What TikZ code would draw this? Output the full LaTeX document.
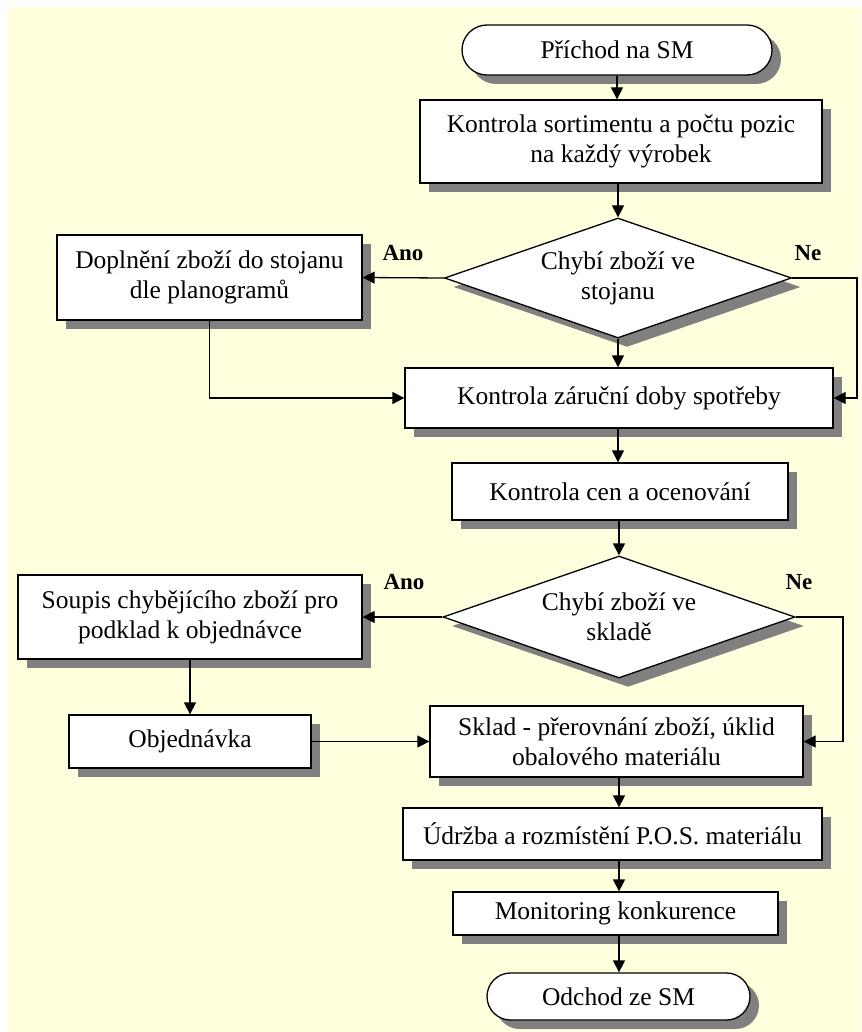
\documentclass[tikz,border=0pt]{standalone}
\usepackage{fontspec}
\setmainfont{Liberation Serif}
\usetikzlibrary{shapes.geometric,shapes.misc,shadows,arrows.meta}
\definecolor{cream}{RGB}{255,255,222}
\definecolor{shadowgray}{RGB}{128,128,128}
\newcommand{\fsx}{\fontsize{25.5}{30}\selectfont}
\newcommand{\fsb}{\fontsize{23}{28}\selectfont\bfseries}
\tikzset{
  base/.style={draw=black, line width=1.3pt, fill=white, font=\fsx, align=center, inner sep=0pt,
    drop shadow={shadow xshift=9pt, shadow yshift=-9pt, fill=shadowgray, opacity=1}},
  procbox/.style={base, rectangle},
  term/.style={base, rounded rectangle},
  decision/.style={base, diamond, aspect=2.9},
  arr/.style={-{Triangle[length=12pt,width=12pt]}, line width=1.3pt},
  lbl/.style={font=\fsb, inner sep=0pt}
}
\begin{document}
\begin{tikzpicture}[x=1pt,y=-1pt]
\useasboundingbox (0,0) rectangle (861,1032);
\fill[white] (0,0) rectangle (861,1032);
\fill[cream] (8,7) rectangle (861,1032);

\node[term, minimum width=310pt, minimum height=50pt] (start) at (617,50) {Příchod na SM};
\node[procbox, minimum width=402pt, minimum height=83pt] (b1) at (621,141.5) {Kontrola sortimentu a počtu pozic\\na každý výrobek};
\node[decision, minimum width=347pt, minimum height=120pt] (d1) at (618,278) {Chybí zboží ve\\stojanu};
\node[procbox, minimum width=305pt, minimum height=85pt] (b4) at (209.5,277.5) {Doplnění zboží do stojanu\\dle planogramů};
\node[procbox, minimum width=428pt, minimum height=60pt] (b5) at (619,398) {Kontrola záruční doby spotřeby};
\node[procbox, minimum width=336pt, minimum height=57pt] (b6) at (620,491.5) {Kontrola cen a ocenování};
\node[decision, minimum width=352pt, minimum height=122pt] (d2) at (619,617) {Chybí zboží ve\\skladě};
\node[procbox, minimum width=344pt, minimum height=84pt] (b8) at (190,617) {Soupis chybějícího zboží pro\\podklad k objednávce};
\node[procbox, minimum width=242pt, minimum height=53pt] (b9) at (190,741.5) {Objednávka};
\node[procbox, minimum width=373pt, minimum height=71pt] (b10) at (616.5,741.5) {Sklad - přerovnání zboží, úklid\\obalového materiálu};
\node[procbox, minimum width=419pt, minimum height=52pt] (b11) at (612.5,834) {Údržba a rozmístění P.O.S. materiálu};
\node[procbox, minimum width=325pt, minimum height=43pt] (b12) at (615.5,913.5) {Monitoring konkurence};
\node[term, minimum width=263pt, minimum height=47pt] (end) at (618.5,996.5) {Odchod ze SM};

\coordinate (r1) at (857,0);
\coordinate (r2) at (843,0);

\node[lbl] (ano1) at (403,253) {Ano};
\node[lbl] (ne1) at (808,253) {Ne};
\node[lbl] (ano2) at (404,582) {Ano};
\node[lbl] (ne2) at (799,582) {Ne};

\draw[arr] (start.south) -- (start.south |- b1.north);
\draw[arr] (b1.south -| d1.north) -- (d1.north);
\draw[arr] (d1.west) -- (b4.east);
\draw[arr] (b4.south) |- (b5.west);
\draw[arr] (d1.east) -- (d1.east -| r1) |- (b5.east);
\draw[arr] (d1.south) -- (d1.south |- b5.north);
\draw[arr] (b5.south -| d1.south) -- (d1.south |- b6.north);
\draw[arr] (b6.south -| d2.north) -- (d2.north);
\draw[arr] (d2.west) -- (b8.east);
\draw[arr] (b8.south) -- (b9.north);
\draw[arr] (b9.east) -- (b10.west);
\draw[arr] (d2.east) -- (d2.east -| r2) |- (b10.east);
\draw[arr] (b10.south -| d2.south) -- (d2.south |- b11.north);
\draw[arr] (b11.south -| d2.south) -- (d2.south |- b12.north);
\draw[arr] (b12.south -| d2.south) -- (d2.south |- end.north);
\end{tikzpicture}
\end{document}
